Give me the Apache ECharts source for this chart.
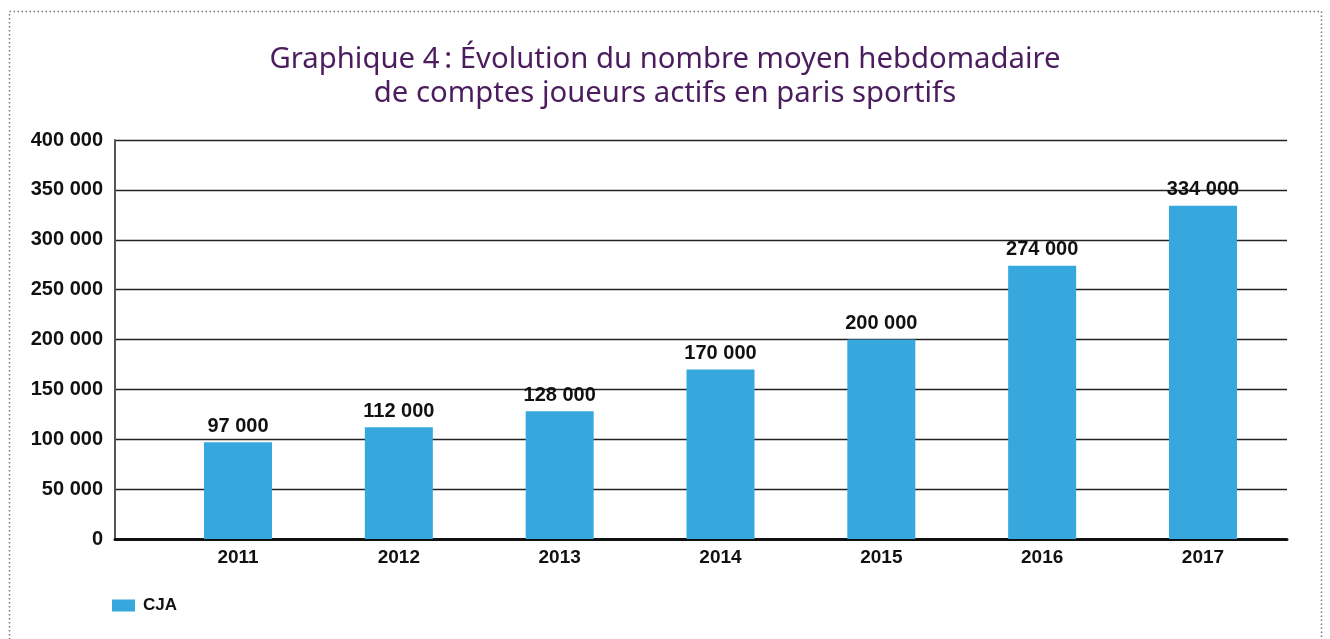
<!DOCTYPE html>
<html><head><meta charset="utf-8">
<script src="https://cdn.jsdelivr.net/npm/echarts@6/dist/echarts.min.js"></script>
<style>html,body{margin:0;padding:0;background:#fff}#c{width:1330px;height:639px}</style>
</head><body><div id="c"></div>
<script>
const years = ['2011','2012','2013','2014','2015','2016','2017'];
const cja = [97000, 112000, 128000, 170000, 200000, 274000, 334000];
const seriesName = 'CJA';
const titleLines = ['Graphique 4\u202f: Évolution du nombre moyen hebdomadaire', 'de comptes joueurs actifs en paris sportifs'];

const fmt = v => String(v).replace(/\B(?=(\d{3})+(?!\d))/g, ' ');
const lbl = size => ({fontFamily:'Liberation Sans', fontWeight:'bold', fontSize:size, color:'#111'});

const chart = echarts.init(document.getElementById('c'), null, {renderer:'canvas'});
chart.setOption({
  animation:false,
  backgroundColor:'#fff',
  title:{text:titleLines.join('\n'), left:'center', top:38, textStyle:{fontFamily:'Noto Sans', fontWeight:'normal', fontSize:29.3, lineHeight:34, color:'#4b1d5e'}},
  graphic:[{type:'rect', shape:{x:9.5, y:11.5, width:1312, height:640}, style:{fill:'none', stroke:'#777', lineWidth:1.5, lineDash:[1.5,2.5]}, silent:true}],
  legend:{left:112, top:597, padding:0, itemWidth:23, itemHeight:12, icon:'rect', itemGap:8, textStyle:Object.assign({padding:[0,0,0,3]}, lbl(17)), data:[seriesName]},
  grid:[
    {left:115, right:43, top:140, bottom:100},
    {left:157.6, right:46.6, top:140, bottom:100}
  ],
  xAxis:[
    {type:'value', gridIndex:0, min:0, max:1, axisLine:{show:true, onZero:false, lineStyle:{color:'#111', width:3}}, axisTick:{show:false}, axisLabel:{show:false}, splitLine:{show:false}},
    {type:'category', gridIndex:1, data:years, axisLine:{show:false}, axisTick:{show:false}, axisLabel:Object.assign({margin:9}, lbl(19))}
  ],
  yAxis:[
    {type:'value', gridIndex:0, min:0, max:400000, interval:50000, axisLine:{show:true, lineStyle:{color:'#555', width:2}}, axisTick:{show:false},
     axisLabel:Object.assign({margin:12, formatter:fmt, verticalAlign:'middle', padding:[0,0,16,0]}, lbl(20)), splitLine:{lineStyle:{color:'#222', width:1.3}}},
    {type:'value', gridIndex:1, min:0, max:400000, show:false, splitLine:{show:false}}
  ],
  series:[{name:seriesName, type:'bar', xAxisIndex:1, yAxisIndex:1, data:cja, barWidth:68, itemStyle:{color:'#36a8de'},
    label:Object.assign({show:true, position:'top', distance:6, formatter:p=>fmt(p.value)}, lbl(20))}]
});
</script></body></html>
